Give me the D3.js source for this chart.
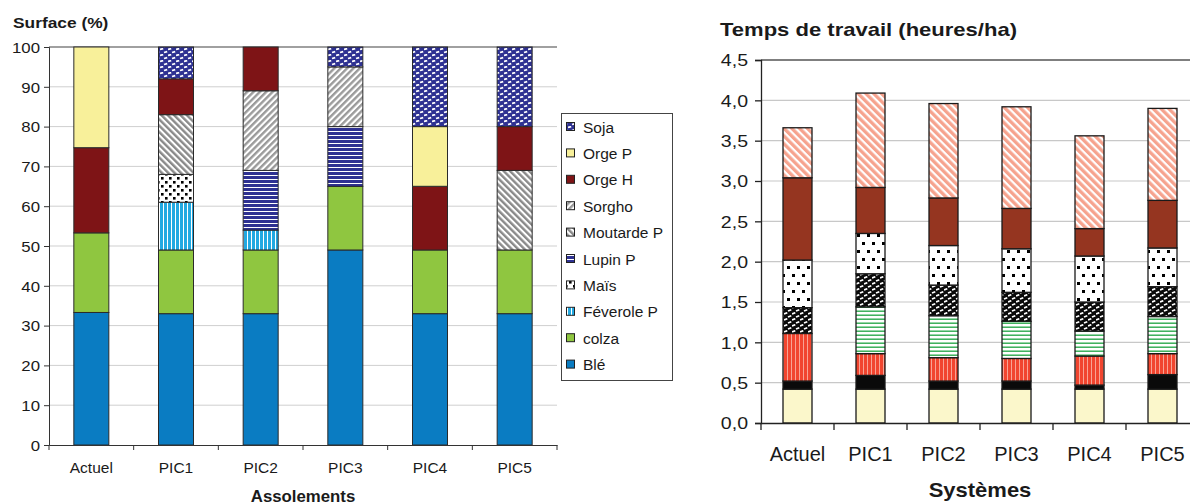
<!DOCTYPE html>
<html><head><meta charset="utf-8">
<script src="https://cdn.jsdelivr.net/npm/d3@7"></script>
<style>body{margin:0;background:#fff}svg{display:block}text{font-family:"Liberation Sans",Arial,sans-serif;fill:#1a1a1a}</style>
</head><body><svg id="c" width="1190" height="504"></svg>
<script>
// ---------- Left chart data ----------
const categories = ["Actuel","PIC1","PIC2","PIC3","PIC4","PIC5"];
const crops = ["Blé","colza","Féverole P","Maïs","Lupin P","Moutarde P","Sorgho","Orge H","Orge P","Soja"];
const ble      = [33.3, 33, 33, 49, 33, 33];
const colza    = [20,   16, 16, 16, 16, 16];
const feverole = [0,    12, 5,  0,  0,  0];
const mais     = [0,    7,  0,  0,  0,  0];
const lupin    = [0,    0,  15, 15, 0,  0];
const moutarde = [0,    15, 0,  0,  0,  20];
const sorgho   = [0,    0,  20, 15, 0,  0];
const orgeH    = [21.4, 9,  11, 0,  16, 11];
const orgeP    = [25.3, 0,  0,  0,  15, 0];
const soja     = [0,    8,  0,  5,  20, 20];
const leftTicks = [0,10,20,30,40,50,60,70,80,90,100];
const legendOrder = ["Soja","Orge P","Orge H","Sorgho","Moutarde P","Lupin P","Maïs","Féverole P","colza","Blé"];

// ---------- Right chart data ----------
const systems = ["Actuel","PIC1","PIC2","PIC3","PIC4","PIC5"];
const work1 = [0.42,0.42,0.42,0.42,0.42,0.42];
const work2 = [0.10,0.17,0.10,0.10,0.05,0.18];
const work3 = [0.59,0.27,0.29,0.28,0.36,0.26];
const work4 = [0,   0.58,0.52,0.46,0.31,0.46];
const work5 = [0.32,0.41,0.38,0.36,0.36,0.37];
const work6 = [0.59,0.50,0.49,0.54,0.57,0.48];
const work7 = [1.02,0.57,0.59,0.50,0.34,0.59];
const work8 = [0.62,1.17,1.17,1.26,1.15,1.14];
const rightTicks = [0,0.5,1,1.5,2,2.5,3,3.5,4,4.5];

const leftValues = [ble,colza,feverole,mais,lupin,moutarde,sorgho,orgeH,orgeP,soja];
const rightValues = [work1,work2,work3,work4,work5,work6,work7,work8];
const rightKeys = ["w1","w2","w3","w4","w5","w6","w7","w8"];

const svg = d3.select("#c");
const defs = svg.append("defs");

function pat(id, w, h, bg, draw, rot){
  const p = defs.append("pattern").attr("id",id).attr("patternUnits","userSpaceOnUse")
    .attr("width",w).attr("height",h);
  if(rot!==undefined) p.attr("patternTransform",`rotate(${rot})`);
  p.append("rect").attr("width",w).attr("height",h).attr("fill",bg);
  draw(p);
}
// left patterns
pat("pSoja",8,6,"#2e3192",p=>{
  p.append("path").attr("d","M0,1.5 L3.2,0.6 M4,4.5 L7.2,3.6").attr("stroke","#fff").attr("stroke-width",1.8);
});
pat("pSorgho",4.5,4.5,"#fff",p=>{p.append("rect").attr("width",2.4).attr("height",4.5).attr("fill","#9a9a9a");},45);
pat("pMout",4.5,4.5,"#fff",p=>{p.append("rect").attr("width",2.4).attr("height",4.5).attr("fill","#8a8a8a");},-45);
pat("pLupin",4,4,"#2e3192",p=>{p.append("rect").attr("y",3).attr("width",4).attr("height",1).attr("fill","#fff");});
pat("pMais",8,8,"#fff",p=>{
  p.append("rect").attr("x",1).attr("y",1).attr("width",2.6).attr("height",2.6).attr("fill","#000");
  p.append("rect").attr("x",5).attr("y",5).attr("width",2.6).attr("height",2.6).attr("fill","#000");
});
pat("pFev",4,4,"#22a9e1",p=>{p.append("rect").attr("x",3).attr("width",1).attr("height",4).attr("fill","#fff");});
// right patterns
pat("pRed",4,4,"#f1452f",p=>{p.append("rect").attr("x",3).attr("width",1.2).attr("height",4).attr("fill","#f8a394");});
pat("pGreen",4,4,"#fff",p=>{p.append("rect").attr("y",2.5).attr("width",4).attr("height",1.4).attr("fill","#2ca94e");});
pat("pWave",8,6,"#0a0a0a",p=>{
  p.append("path").attr("d","M0,2 L3.3,0.7 M4,5 L7.3,3.7").attr("stroke","#fff").attr("stroke-width",1.7);
});
pat("pDots",10,16,"#fff",p=>{
  p.append("rect").attr("x",2).attr("y",2).attr("width",3).attr("height",3).attr("fill","#000");
  p.append("rect").attr("x",7).attr("y",10).attr("width",3).attr("height",3).attr("fill","#000");
});
pat("pSalmon",5.5,5.5,"#fff",p=>{p.append("rect").attr("width",3.3).attr("height",5.5).attr("fill","#f6a38e");},-45);

const leftFill = {"Blé":"#0a7cc2","colza":"#8fc640","Féverole P":"url(#pFev)","Maïs":"url(#pMais)",
  "Lupin P":"url(#pLupin)","Moutarde P":"url(#pMout)","Sorgho":"url(#pSorgho)","Orge H":"#7e1416",
  "Orge P":"#f8f09a","Soja":"url(#pSoja)"};
const rightFill = ["#fbf7cb","#0a0a0a","url(#pRed)","url(#pGreen)","url(#pWave)","url(#pDots)","#953520","url(#pSalmon)"];

function txt(g, s, x, y, size, k, opts={}){
  const t = g.append("text").text(s).attr("transform",`translate(${x},${y}) scale(${k},1)`)
    .attr("font-size",size);
  if(opts.bold) t.attr("font-weight","bold");
  if(opts.anchor) t.attr("text-anchor",opts.anchor);
  return t;
}

// ================= LEFT CHART =================
{
  const x = d3.scaleBand().domain(categories).range([49,557]).paddingInner(0).paddingOuter(0);
  const y = d3.scaleLinear().domain([0,100]).range([445,47]);
  const g = svg.append("g");
  g.selectAll("line.grid").data(leftTicks.filter(d=>d>0)).join("line")
    .attr("x1",49).attr("x2",557).attr("y1",d=>y(d)).attr("y2",d=>y(d))
    .attr("stroke",d=>d===100?"#808080":"#cfcfcf").attr("stroke-width",d=>d===100?1.3:1);
  const rows = categories.map((c,i)=>{const o={cat:c}; crops.forEach((k,j)=>o[k]=leftValues[j][i]); return o;});
  const stack = d3.stack().keys(crops)(rows);
  const bw = 35, xc = c=>x(c)+x.bandwidth()/2;
  g.selectAll("g.s").data(stack).join("g").each(function(s){
    d3.select(this).selectAll("rect").data(s.filter(d=>d[1]-d[0]>0)).join("rect")
      .attr("x",d=>xc(d.data.cat)-bw/2).attr("width",bw)
      .attr("y",d=>y(d[1])).attr("height",d=>y(d[0])-y(d[1]))
      .attr("fill",leftFill[s.key]).attr("stroke","#2a2a2a").attr("stroke-width",1);
  });
  const ya = g.append("g").attr("transform","translate(49,0)")
    .call(d3.axisLeft(y).tickValues(leftTicks).tickSize(5).tickPadding(4));
  ya.select(".domain").attr("stroke","#333");
  ya.selectAll(".tick line").attr("stroke","#333");
  ya.selectAll(".tick text").attr("font-size",15).attr("fill","#1a1a1a")
    .attr("font-family",'"Liberation Sans",Arial,sans-serif')
    .attr("transform","scale(1.12,1)").attr("x",-9/1.12).attr("dy","0.35em");
  const xa = g.append("g").attr("transform","translate(0,445)")
    .call(d3.axisBottom(x).tickSize(0).tickPadding(17));
  xa.select(".domain").attr("stroke","#333");
  xa.selectAll(".tick text").attr("font-size",15.5).attr("fill","#1a1a1a")
    .attr("font-family",'"Liberation Sans",Arial,sans-serif');
  const bounds = categories.map(c=>x(c)).concat([x.range()[1]]);
  g.selectAll("line.bt").data(bounds).join("line").attr("x1",d=>d).attr("x2",d=>d)
    .attr("y1",445).attr("y2",450).attr("stroke","#333");
  txt(g,"Surface (%)",13,28,15.5,1.12,{bold:true});
  txt(g,"Assolements",303,502,16,1.05,{bold:true,anchor:"middle"});
  const lg = g.append("g");
  lg.append("rect").attr("x",561.5).attr("y",113.5).attr("width",111).attr("height",267)
    .attr("fill","#fff").attr("stroke","#444").attr("stroke-width",1);
  legendOrder.forEach((k,i)=>{
    const yy = 127 + i*26.4;
    lg.append("rect").attr("x",566.5).attr("y",yy-4.5).attr("width",8).attr("height",8)
      .attr("fill",leftFill[k]).attr("stroke","#222").attr("stroke-width",1);
    lg.append("text").text(k).attr("x",583).attr("y",yy+5.5).attr("font-size",15.5);
  });
}

// ================= RIGHT CHART =================
{
  const x = d3.scaleBand().domain(systems).range([761,1199]).paddingInner(0).paddingOuter(0);
  const y = d3.scaleLinear().domain([0,4.5]).range([423,60]);
  const g = svg.append("g");
  g.selectAll("line.grid").data(rightTicks.filter(d=>d>0)).join("line")
    .attr("x1",761).attr("x2",1199).attr("y1",d=>y(d)).attr("y2",d=>y(d))
    .attr("stroke",d=>d===4.5?"#555":"#c8c8c8").attr("stroke-width",d=>d===4.5?1.4:1.2);
  const rows = systems.map((c,i)=>{const o={cat:c}; rightKeys.forEach((k,j)=>o[k]=rightValues[j][i]); return o;});
  const stack = d3.stack().keys(rightKeys)(rows);
  const bw = 29, xc = c=>x(c)+x.bandwidth()/2;
  g.selectAll("g.s").data(stack).join("g").each(function(s,si){
    d3.select(this).selectAll("rect").data(s.filter(d=>d[1]-d[0]>0)).join("rect")
      .attr("x",d=>xc(d.data.cat)-bw/2).attr("width",bw)
      .attr("y",d=>y(d[1])).attr("height",d=>y(d[0])-y(d[1]))
      .attr("fill",rightFill[si]).attr("stroke","#1a1a1a").attr("stroke-width",1.3);
  });
  const fmt = d=>d3.format(".1f")(d).replace(".",",");
  const ya = g.append("g").attr("transform","translate(761,0)")
    .call(d3.axisLeft(y).tickValues(rightTicks).tickFormat(fmt).tickSize(6).tickPadding(6));
  ya.select(".domain").attr("stroke","#222").attr("stroke-width",1.3);
  ya.selectAll(".tick line").attr("stroke","#222").attr("stroke-width",1.3);
  ya.selectAll(".tick text").attr("font-size",17).attr("fill","#1a1a1a")
    .attr("font-family",'"Liberation Sans",Arial,sans-serif')
    .attr("transform","scale(1.15,1)").attr("x",-13/1.15).attr("dy","0.35em");
  const xa = g.append("g").attr("transform","translate(0,423)")
    .call(d3.axisBottom(x).tickSize(0).tickPadding(24));
  xa.select(".domain").attr("stroke","#222").attr("stroke-width",1.3);
  xa.selectAll(".tick text").attr("font-size",20).attr("fill","#1a1a1a")
    .attr("font-family",'"Liberation Sans",Arial,sans-serif');
  const bounds = systems.map(c=>x(c)).concat([x.range()[1]]);
  g.selectAll("line.bt").data(bounds).join("line").attr("x1",d=>d).attr("x2",d=>d)
    .attr("y1",423).attr("y2",430).attr("stroke","#222").attr("stroke-width",1.3);
  txt(g,"Temps de travail (heures/ha)",720,36,19,1.16,{bold:true});
  txt(g,"Systèmes",980,497,20,1.1,{bold:true,anchor:"middle"});
}
</script></body></html>
